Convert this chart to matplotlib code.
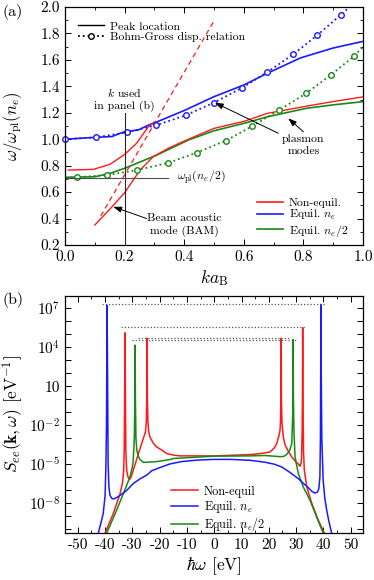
import numpy as np
import matplotlib
matplotlib.use("Agg")
import matplotlib.pyplot as plt
from matplotlib.ticker import MultipleLocator, FixedLocator, FuncFormatter

plt.rcParams.update({
    "font.family": "serif",
    "font.serif": ["cmr10"],
    "mathtext.fontset": "cm",
    "axes.unicode_minus": False,
    "axes.formatter.use_mathtext": True,
    "xtick.direction": "in",
    "ytick.direction": "in",
    "xtick.top": True,
    "ytick.right": True,
})

RED = "#ff1a1a"
BLUE = "#1a1aff"
GREEN = "#168a16"

# ---- panel (a): dispersion, k a_B vs omega/omega_pl(n_e)
blue_peak_k = [0.0, 0.1, 0.157, 0.2, 0.246, 0.28, 0.302, 0.403, 0.498, 0.6, 0.68, 0.79, 0.9, 1.0]
blue_peak_w = [1.0, 1.014, 1.02, 1.057, 1.07, 1.107, 1.125, 1.22, 1.32, 1.41, 1.50, 1.615, 1.69, 1.74]

green_peak_k = [0.0, 0.1, 0.151, 0.2, 0.308, 0.414, 0.5, 0.6, 0.68, 0.81, 0.9, 1.0]
green_peak_w = [0.712, 0.716, 0.742, 0.78, 0.88, 0.994, 1.064, 1.12, 1.17, 1.234, 1.26, 1.284]

red_upper_k = [0.011, 0.095, 0.151, 0.2, 0.24, 0.28, 0.30]
red_upper_w = [0.767, 0.772, 0.81, 0.885, 0.969, 1.095, 1.13]
red_bam_k = [0.1, 0.15, 0.2, 0.252, 0.296, 0.35, 0.414, 0.5, 0.6, 0.68, 0.81, 0.9, 1.0]
red_bam_w = [0.351, 0.47, 0.595, 0.767, 0.868, 0.935, 1.0, 1.082, 1.135, 1.196, 1.25, 1.285, 1.32]
red_dash_k = [0.12, 0.5]
red_dash_w = [0.42, 1.895]

# Bohm-Gross circles + where the dotted line leaves the frame
bg_blue_k = [0.0, 0.104, 0.207, 0.305, 0.405, 0.499, 0.593, 0.679, 0.766, 0.847, 0.925]
bg_blue_w = [1.0, 1.014, 1.052, 1.105, 1.181, 1.276, 1.387, 1.508, 1.642, 1.788, 1.94]
bg_blue_end = (0.955, 2.0)
bg_green_k = [0.039, 0.142, 0.243, 0.347, 0.442, 0.54, 0.629, 0.719, 0.809, 0.892, 0.970]
bg_green_w = [0.712, 0.729, 0.767, 0.822, 0.898, 0.99, 1.10, 1.221, 1.347, 1.486, 1.629]
bg_green_start = (0.0, 0.707)
bg_green_end = (1.0, 1.70)

K_USED = 0.2
WPL_HALF = 0.707

# ---- panel (b): S_ee(k, omega), log10 values
blue_w = [-42.8, -42.5, -41.5, -40.7, -40.0, -39.7, -39.5, -39.4, -39.3, -39.1, -38.9, -38.6, -38.2,
          -37.6, -37.0, -36.0, -34.5, -32.0, -29.7, -27.0, -24.8, -22.9, -19.9, -16.2, -12.0, -6.0,
          0.0, 6.0, 13.1, 18.6, 22.0, 24.7, 27.5, 30.8, 32.5, 34.4, 35.8, 36.9, 37.8, 38.3, 38.7,
          38.9, 39.0, 39.1, 39.2, 39.4, 39.9, 40.5, 41.2, 42.0, 43.0, 43.3]
blue_s = [-10.6, -10.3, -9.5, -8.8, -7.4, -5.0, -2.0, 2.0, 7.25, 2.0, -5.0, -6.8, -7.4,
          -7.62, -7.68, -7.6, -7.4, -7.0, -6.49, -6.1, -5.85, -5.5, -5.26, -4.98, -4.8, -4.68,
          -4.63, -4.63, -4.70, -4.85, -5.0, -5.21, -5.6, -6.11, -6.45, -6.80, -7.1, -7.22, -7.15, -6.9, -6.0,
          -3.0, 2.0, 7.3, 2.0, -3.0, -6.24, -7.6, -8.55, -9.4, -10.3, -10.6]

red_w = [-40.3, -40.0, -37.0, -34.5, -33.6, -33.2, -33.0, -32.85, -32.7, -32.55, -32.4, -32.1,
         -31.6, -31.1, -30.5, -29.7, -28.7, -27.8, -26.0, -25.2, -24.9, -24.75, -24.65, -24.5,
         -24.3, -24.0, -23.6, -22.3, -21.1, -19.0, -17.4, -15.0, -12.6, 0.3, 13.1, 17.0, 20.4,
         22.0, 22.9, 23.7, 24.1, 24.3, 24.4, 24.5, 24.6, 24.8, 25.3, 25.9, 27.1, 28.4, 30.0, 30.8,
         31.4, 31.8, 32.0, 32.2, 32.3, 32.4, 32.5, 32.7, 33.0, 33.9, 35.7, 38.1, 40.3, 40.6]
red_s = [-10.6, -10.3, -8.8, -7.26, -6.4, -5.5, -4.0, 0.0, 5.12, 0.0, -4.0, -5.47,
         -6.0, -6.18, -6.0, -5.47, -4.8, -4.18, -3.02, -2.5, -1.8, 0.0, 4.69, 0.0,
         -1.8, -2.5, -2.9, -3.4, -3.67, -3.95, -4.18, -4.3, -4.36, -4.36, -4.26, -4.18, -4.06,
         -3.75, -3.41, -2.8, -2.38, -1.5, 0.0, 4.69, 0.0, -1.8, -2.9, -3.5, -4.0, -4.44, -4.85, -4.98,
         -5.16, -4.9, -4.44, -2.5, 0.0, 5.5, 0.0, -4.0, -5.47, -6.75, -8.0, -9.3, -10.3, -10.6]

green_w = [-39.6, -39.4, -35.8, -33.3, -30.9, -30.0, -29.7, -29.3, -29.1, -29.0, -28.9, -28.7,
           -28.4, -27.8, -27.2, -26.0, -24.8, -21.1, -16.2, -15.0, 0.3, 13.1, 18.6, 24.1, 25.5,
           26.5, 27.5, 28.4, 28.7, 28.85, 28.9, 29.0, 29.2, 29.6, 30.8, 32.6, 35.1, 37.5, 39.9, 40.5]
green_s = [-10.6, -10.3, -8.55, -7.26, -5.98, -5.2, -4.7, -3.0, 0.0, 4.17, 0.0, -3.0,
           -3.93, -4.4, -4.65, -4.85, -4.85, -4.80, -4.64, -4.56, -4.38, -4.36, -4.33, -4.42, -4.4,
           -4.25, -4.0, -3.41, -1.5, 0.0, 4.6, 0.0, -2.5, -4.44, -5.72, -6.75, -7.78, -9.07, -10.3, -10.6]

# dotted guide levels joining the peak pairs: (log10 level, left, right)
peak_levels = [(7.31, -41.3, 40.6), (5.58, -34.2, 33.2), (4.72, -27.8, 27.7), (4.60, -30.3, 30.2)]

LOG_LABELS = {7: r"$10^{7}$", 4: r"$10^{4}$", 1: "10", -2: r"$10^{-2}$", -5: r"$10^{-5}$", -8: r"$10^{-8}$"}

FS_NOTE = 8.5
LEG_KW = dict(frameon=False, handlelength=2.2, handletextpad=0.5,
              labelspacing=0.02, borderaxespad=0.0, borderpad=0.0)

fig = plt.figure(figsize=(3.74, 5.80), dpi=100)
axa = fig.add_axes([0.1738, 0.5776, 0.7968, 0.4103])
axb = fig.add_axes([0.1738, 0.0810, 0.7968, 0.4086])

# ---------- (a)
axa.plot(blue_peak_k, blue_peak_w, color=BLUE, lw=1.2)
axa.plot(green_peak_k, green_peak_w, color=GREEN, lw=1.2)
axa.plot(red_upper_k, red_upper_w, color=RED, lw=1.0)
axa.plot(red_bam_k, red_bam_w, color=RED, lw=1.0)
axa.plot(red_dash_k, red_dash_w, color=RED, lw=0.9, ls=(0, (4, 3)))

axa.plot(bg_blue_k + [bg_blue_end[0]], bg_blue_w + [bg_blue_end[1]], color=BLUE, lw=1.3, ls=":")
axa.plot(bg_blue_k, bg_blue_w, ls="none", marker="o", ms=4, mfc="white", mec=BLUE, mew=1.0, clip_on=False)
axa.plot([bg_green_start[0]] + bg_green_k + [bg_green_end[0]],
         [bg_green_start[1]] + bg_green_w + [bg_green_end[1]], color=GREEN, lw=1.3, ls=":")
axa.plot(bg_green_k, bg_green_w, ls="none", marker="o", ms=4, mfc="white", mec=GREEN, mew=1.0)

axa.plot([K_USED, K_USED], [0.2, 1.2], color="0.15", lw=0.8)
axa.plot([0.0, 0.345], [WPL_HALF, WPL_HALF], color="0.3", lw=0.8)
axa.text(0.375, WPL_HALF, r"$\omega_{\rm pl}(n_e/2)$", fontsize=FS_NOTE, va="center", ha="left")
axa.text(K_USED, 1.305, "$k$ used\nin panel (b)", fontsize=FS_NOTE, ha="center", va="center", linespacing=1.25)
axa.text(0.80, 0.955, "plasmon\nmodes", fontsize=FS_NOTE, ha="center", va="center", linespacing=1.25)
axa.text(0.40, 0.35, "Beam acoustic\nmode (BAM)", fontsize=FS_NOTE, ha="center", va="center", linespacing=1.25)

arw = dict(arrowstyle="-|>,head_length=0.5,head_width=0.18", color="black", lw=0.7, shrinkA=0, shrinkB=0)
axa.annotate("", xy=(0.503, 1.276), xytext=(0.716, 1.045), arrowprops=arw)
axa.annotate("", xy=(0.749, 1.158), xytext=(0.80, 1.057), arrowprops=arw)
axa.annotate("", xy=(0.162, 0.489), xytext=(0.274, 0.40), arrowprops=arw)

axa.set_xlim(0, 1)
axa.set_ylim(0.2, 2.0)
axa.xaxis.set_major_locator(MultipleLocator(0.2))
axa.xaxis.set_minor_locator(MultipleLocator(0.1))
axa.yaxis.set_major_locator(MultipleLocator(0.2))
axa.yaxis.set_minor_locator(MultipleLocator(0.1))
axa.xaxis.set_major_formatter(FuncFormatter(lambda v, p: f"{v:.1f}"))
axa.yaxis.set_major_formatter(FuncFormatter(lambda v, p: f"{v:.1f}"))
axa.set_xlabel(r"$ka_{\rm B}$", fontsize=12.5)
axa.set_ylabel(r"$\omega/\omega_{\rm pl}(n_e)$", fontsize=12)
axa.xaxis.set_label_coords(0.5, -0.095)
axa.yaxis.set_label_coords(-0.138, 0.5)

h1, = axa.plot([], [], color="black", lw=1.0)
h2, = axa.plot([], [], color="black", lw=1.3, ls=":", marker="o", ms=4, mfc="white", mew=1.0)
leg1 = axa.legend([h1, h2], ["Peak location", "Bohm-Gross disp. relation"], loc="upper left",
                  bbox_to_anchor=(0.045, 0.94), fontsize=FS_NOTE, **LEG_KW)
axa.add_artist(leg1)
hr, = axa.plot([], [], color=RED, lw=1.2)
hb, = axa.plot([], [], color=BLUE, lw=1.2)
hg, = axa.plot([], [], color=GREEN, lw=1.2)
axa.legend([hr, hb, hg], ["Non-equil.", r"Equil. $n_e$", r"Equil. $n_e/2$"], loc="lower right",
           bbox_to_anchor=(0.95, 0.027), fontsize=FS_NOTE, **LEG_KW)

# ---------- (b)
lr, = axb.plot(red_w, 10.0 ** np.array(red_s), color=RED, lw=1.1)
lg, = axb.plot(green_w, 10.0 ** np.array(green_s), color=GREEN, lw=1.1)
lb, = axb.plot(blue_w, 10.0 ** np.array(blue_s), color=BLUE, lw=1.1)
for lev, lo, hi in peak_levels:
    axb.plot([lo, hi], [10.0 ** lev, 10.0 ** lev], color="0.35", lw=0.9, ls=(0, (1, 1.6)))

axb.set_yscale("log")
axb.set_xlim(-54.7, 54.5)
axb.set_ylim(10.0 ** -10.3, 10.0 ** 7.95)
axb.xaxis.set_major_locator(MultipleLocator(10))
axb.xaxis.set_minor_locator(MultipleLocator(5))
axb.xaxis.set_major_formatter(FuncFormatter(lambda v, p: f"{v:.0f}"))
axb.yaxis.set_major_locator(FixedLocator([10.0 ** e for e in range(-10, 8)]))
axb.yaxis.set_minor_locator(FixedLocator([]))
axb.yaxis.set_major_formatter(FuncFormatter(lambda v, p: LOG_LABELS.get(int(round(np.log10(v))), "")))
axb.set_xlabel(r"$\hbar\omega$ [eV]", fontsize=12.5)
axb.set_ylabel(r"$S_{ee}(\mathbf{k},\omega)$ [eV$^{-1}$]", fontsize=12.5)
axb.xaxis.set_label_coords(0.5, -0.095)
axb.yaxis.set_label_coords(-0.135, 0.5)
axb.legend([lr, lb, lg], ["Non-equil", r"Equil. $n_e$", r"Equil. $n_e/2$"],
           loc="upper left", bbox_to_anchor=(0.355, 0.2), fontsize=8.8, **LEG_KW)

for ax in (axa, axb):
    ax.tick_params(which="major", length=4, width=0.7, labelsize=11)
    ax.tick_params(which="minor", length=2.5, width=0.6)
    for s in ax.spines.values():
        s.set_linewidth(0.9)

fig.text(0.008, 0.979, "(a)", fontsize=11.5, va="center")
fig.text(0.008, 0.483, "(b)", fontsize=11.5, va="center")

fig.savefig("out.png", dpi=100)
